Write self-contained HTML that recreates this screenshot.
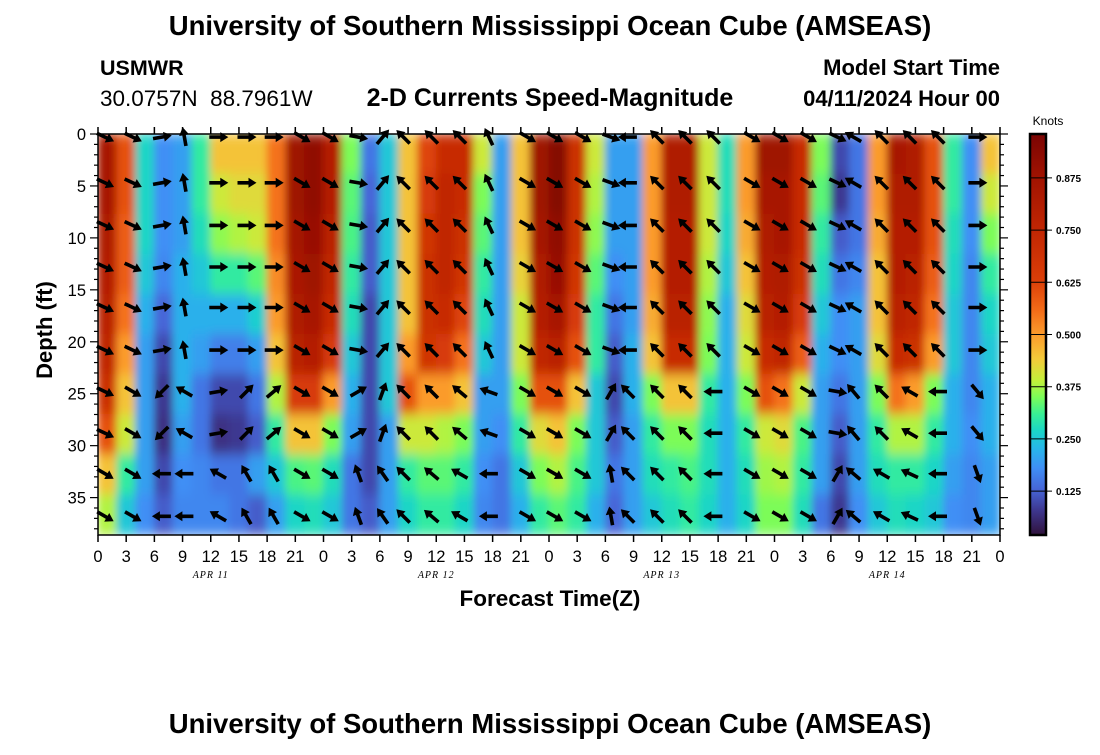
<!DOCTYPE html>
<html><head><meta charset="utf-8"><style>
body{margin:0;background:#fff;}
svg text{font-family:"Liberation Sans",sans-serif;fill:#000;white-space:pre;}
</style></head><body>
<svg id="chart" width="1100" height="750" viewBox="0 0 1100 750" xmlns="http://www.w3.org/2000/svg">
<defs>
<clipPath id="plotclip"><rect x="98" y="134" width="902" height="401"/></clipPath>
<filter id="smooth" x="0" y="0" width="1" height="1"><feGaussianBlur stdDeviation="4 6" edgeMode="duplicate"/></filter>
<linearGradient id="cbgrad" x1="0" y1="1" x2="0" y2="0"></linearGradient>
</defs>
<text x="550" y="35" text-anchor="middle" font-size="27.5" font-weight="bold">University of Southern Mississippi Ocean Cube (AMSEAS)</text>
<text x="100" y="75" font-size="21.5" font-weight="bold">USMWR</text>
<text x="100" y="106" font-size="22.5" xml:space="preserve">30.0757N  88.7961W</text>
<text x="550" y="106" text-anchor="middle" font-size="25" font-weight="bold">2-D Currents Speed-Magnitude</text>
<text x="1000" y="75" text-anchor="end" font-size="22" font-weight="bold">Model Start Time</text>
<text x="1000" y="106" text-anchor="end" font-size="22" font-weight="bold">04/11/2024 Hour 00</text>
<g id="heat-clip" clip-path="url(#plotclip)"><g id="heat" filter="url(#smooth)"></g></g>
<g id="arrows"></g>
<g id="axes"></g>
<text transform="translate(52,330) rotate(-90)" text-anchor="middle" font-size="22" font-weight="bold">Depth (ft)</text>
<text x="550" y="606" text-anchor="middle" font-size="22.5" font-weight="bold">Forecast Time(Z)</text>
<g id="colorbar"></g>
<text x="1048" y="125" text-anchor="middle" font-size="12">Knots</text>
<text x="550" y="733" text-anchor="middle" font-size="27.5" font-weight="bold">University of Southern Mississippi Ocean Cube (AMSEAS)</text>
</svg>
<script>
const NS='http://www.w3.org/2000/svg';
const xTickLabels=['0','3','6','9','12','15','18','21','0','3','6','9','12','15','18','21','0','3','6','9','12','15','18','21','0','3','6','9','12','15','18','21','0'];
const dayLabels=['APR 11','APR 12','APR 13','APR 14'];
const yTickLabels=['0','5','10','15','20','25','30','35'];
const cbTickLabels=['0.125','0.250','0.375','0.500','0.625','0.750','0.875'];
// speed (knots), 48 time cells (2h each), 10 depth bands
const speedBand0=[0.85,0.6,0.27,0.18,0.2,0.3,0.45,0.45,0.45,0.55,0.88,0.92,0.8,0.35,0.15,0.25,0.45,0.62,0.72,0.72,0.4,0.2,0.45,0.88,0.95,0.7,0.4,0.2,0.2,0.5,0.82,0.82,0.4,0.28,0.5,0.88,0.88,0.72,0.35,0.1,0.15,0.5,0.85,0.82,0.6,0.3,0.18,0.45];
const speedBand1=[0.85,0.6,0.27,0.18,0.2,0.3,0.4,0.42,0.42,0.55,0.88,0.92,0.8,0.33,0.13,0.25,0.45,0.65,0.75,0.72,0.35,0.2,0.45,0.88,0.95,0.7,0.38,0.2,0.2,0.5,0.82,0.82,0.4,0.28,0.5,0.85,0.85,0.72,0.33,0.08,0.15,0.5,0.82,0.82,0.6,0.3,0.18,0.4];
const speedBand2=[0.82,0.58,0.27,0.18,0.2,0.28,0.36,0.38,0.4,0.55,0.86,0.9,0.78,0.32,0.12,0.25,0.45,0.68,0.75,0.7,0.33,0.2,0.45,0.86,0.92,0.7,0.36,0.2,0.2,0.5,0.8,0.8,0.4,0.27,0.48,0.82,0.85,0.72,0.3,0.12,0.15,0.48,0.8,0.8,0.6,0.28,0.18,0.35];
const speedBand3=[0.8,0.58,0.25,0.17,0.22,0.25,0.3,0.3,0.33,0.52,0.84,0.88,0.75,0.3,0.12,0.25,0.45,0.7,0.75,0.68,0.3,0.2,0.43,0.82,0.9,0.68,0.33,0.18,0.2,0.5,0.8,0.8,0.38,0.25,0.45,0.8,0.82,0.7,0.28,0.15,0.17,0.45,0.8,0.78,0.58,0.27,0.17,0.3];
const speedBand4=[0.78,0.55,0.22,0.13,0.22,0.22,0.22,0.22,0.26,0.5,0.82,0.85,0.72,0.28,0.1,0.25,0.45,0.7,0.72,0.62,0.28,0.2,0.4,0.8,0.85,0.65,0.3,0.15,0.2,0.48,0.78,0.78,0.36,0.22,0.42,0.78,0.8,0.65,0.25,0.18,0.2,0.45,0.78,0.75,0.55,0.25,0.17,0.27];
const speedBand5=[0.75,0.5,0.2,0.1,0.22,0.2,0.16,0.16,0.2,0.45,0.78,0.8,0.65,0.25,0.1,0.25,0.5,0.68,0.65,0.55,0.25,0.2,0.4,0.75,0.78,0.6,0.3,0.12,0.22,0.45,0.72,0.72,0.35,0.22,0.4,0.72,0.75,0.58,0.22,0.18,0.2,0.42,0.72,0.7,0.5,0.25,0.17,0.25];
const speedBand6=[0.7,0.45,0.2,0.08,0.22,0.15,0.1,0.1,0.15,0.38,0.65,0.65,0.5,0.22,0.1,0.25,0.6,0.5,0.5,0.45,0.2,0.2,0.35,0.6,0.6,0.45,0.25,0.1,0.22,0.35,0.45,0.45,0.3,0.22,0.35,0.6,0.55,0.4,0.2,0.15,0.2,0.35,0.55,0.5,0.35,0.22,0.17,0.22];
const speedBand7=[0.6,0.4,0.2,0.07,0.2,0.15,0.07,0.08,0.12,0.3,0.45,0.45,0.35,0.2,0.1,0.2,0.4,0.4,0.38,0.35,0.2,0.18,0.3,0.42,0.45,0.35,0.25,0.12,0.2,0.3,0.35,0.35,0.28,0.22,0.3,0.4,0.42,0.32,0.2,0.12,0.2,0.3,0.38,0.38,0.3,0.22,0.18,0.22];
const speedBand8=[0.45,0.3,0.2,0.1,0.18,0.17,0.15,0.15,0.2,0.25,0.32,0.33,0.28,0.15,0.1,0.2,0.3,0.33,0.33,0.3,0.18,0.15,0.25,0.35,0.38,0.32,0.25,0.15,0.2,0.28,0.3,0.32,0.28,0.22,0.28,0.37,0.38,0.3,0.2,0.1,0.2,0.28,0.3,0.3,0.27,0.2,0.17,0.2];
const speedBand9=[0.38,0.25,0.18,0.12,0.17,0.17,0.17,0.15,0.12,0.2,0.27,0.28,0.25,0.15,0.12,0.2,0.27,0.3,0.3,0.27,0.17,0.15,0.22,0.3,0.33,0.3,0.22,0.13,0.2,0.25,0.28,0.3,0.27,0.22,0.27,0.35,0.35,0.28,0.15,0.08,0.18,0.25,0.28,0.27,0.25,0.18,0.17,0.2];
// arrows
const arrowHours=[0.75,3.7,6.8,9.2,12.8,15.8,18.7,21.7,24.7,27.7,30.3,32.5,35.5,38.5,41.6,45.7,48.6,51.6,54.6,56.4,59.5,62.5,65.5,69.6,72.6,75.6,78.7,80.4,83.4,86.4,89.4,93.6];
const arrowDepths=[0.3,4.7,8.8,12.8,16.7,20.8,24.8,28.8,32.7,36.8];
const arrowAngleUpper=[25,25,-10,-100,0,0,0,30,30,10,-50,-135,-135,-135,-115,30,30,30,20,180,-135,-135,-135,30,30,30,25,-150,-135,-135,-135,0];
const arrowAngleMid=[25,30,135,-150,-10,-45,-40,30,30,-30,-70,-135,-135,-140,-160,30,30,30,-60,-135,-135,-135,180,30,30,30,10,-130,-135,-150,180,50];
const arrowAngleDeep=[30,30,180,180,-150,-120,-120,30,30,-110,-125,-135,-140,-150,180,30,30,30,-100,-135,-135,-135,180,30,30,30,-60,-140,-150,-155,180,70];

const speedBands=[speedBand0,speedBand1,speedBand2,speedBand3,speedBand4,speedBand5,speedBand6,speedBand7,speedBand8,speedBand9];
const X0=98,X1=1000,Y0=134,Y1=535,TMAX=96,DMAX=38.6;
function xs(h){return X0+(X1-X0)*h/TMAX;}
function ys(d){return Y0+(Y1-Y0)*d/DMAX;}
const VMIN=0.02,VMAX=0.98;
const CBY0=134,CBY1=535;
function cs(v){return CBY1-(CBY1-CBY0)*(v-VMIN)/(VMAX-VMIN);}
const stops=[[0.02,'#30123b'],[0.08,'#3e3891'],[0.13,'#4666d8'],[0.18,'#3f8ff5'],[0.23,'#26b8e8'],[0.27,'#1bd6c6'],[0.31,'#38f094'],[0.35,'#7cfc58'],[0.39,'#c2f03a'],[0.44,'#f3cb3a'],[0.5,'#fb9b2c'],[0.56,'#f26a17'],[0.63,'#db3e08'],[0.75,'#c02603'],[0.875,'#a11301'],[0.98,'#7a0403']];
function hex(c){return [parseInt(c.slice(1,3),16),parseInt(c.slice(3,5),16),parseInt(c.slice(5,7),16)];}
function color(v){
  if(v<=stops[0][0])return stops[0][1];
  for(let i=1;i<stops.length;i++){if(v<=stops[i][0]){const a=stops[i-1],b=stops[i];const t=(v-a[0])/(b[0]-a[0]);const ca=hex(a[1]),cb=hex(b[1]);return 'rgb('+ca.map((x,k)=>Math.round(x+(cb[k]-x)*t)).join(',')+')';}}
  return stops[stops.length-1][1];
}
function mk(tag,attrs,parent){const e=document.createElementNS(NS,tag);for(const k in attrs)e.setAttribute(k,attrs[k]);parent.appendChild(e);return e;}

const heat=document.getElementById('heat');
const nb=speedBands.length;
speedBands.forEach((band,r)=>{
  band.forEach((v,c)=>{
    const h0=c*TMAX/band.length,h1=(c+1)*TMAX/band.length;
    const d0=r*DMAX/nb,d1=(r+1)*DMAX/nb;
    const el=mk('rect',{x:xs(h0)-0.5,y:ys(d0)-0.5,width:xs(h1)-xs(h0)+1,height:ys(d1)-ys(d0)+1,fill:color(v)},heat);
    
    
  });
});

const ag=document.getElementById('arrows');
arrowHours.forEach((h,c)=>{
  arrowDepths.forEach((d,r)=>{
    const ang=r<=5?arrowAngleUpper[c]:(r<=7?arrowAngleMid[c]:arrowAngleDeep[c]);
    const el=mk('path',{d:'M-9,-1.8 L2,-1.8 L2,-5 L10,0 L2,5 L2,1.8 L-9,1.8 Z',fill:'#000',transform:'translate('+xs(h).toFixed(1)+','+ys(d).toFixed(1)+') rotate('+ang+')'},ag);
    
    
  });
});

const ax=document.getElementById('axes');
mk('rect',{x:X0,y:Y0,width:X1-X0,height:Y1-Y0,fill:'none',stroke:'#000','stroke-width':1.5},ax);
xTickLabels.forEach((lab,i)=>{
  const x=xs(i*3);
  mk('line',{x1:x,y1:Y1,x2:x,y2:Y1+7,stroke:'#000','stroke-width':1.5},ax);
  mk('line',{x1:x,y1:Y0,x2:x,y2:Y0-7,stroke:'#000','stroke-width':1.5},ax);
  const t=mk('text',{x:x,y:Y1+27,'text-anchor':'middle','font-size':16.5},ax);t.textContent=lab;
  
  
});
dayLabels.forEach((lab,i)=>{
  const t=mk('text',{x:xs(12+24*i),y:Y1+43,'text-anchor':'middle','font-size':10,'font-style':'italic','letter-spacing':'1'},ax);t.textContent=lab;
  t.style.fontFamily='"Liberation Serif",serif';
  
  
});
for(let d=0;d<=38;d++){
  const y=ys(d),maj=d%5===0;
  mk('line',{x1:X0,y1:y,x2:X0-(maj?8:4),y2:y,stroke:'#000','stroke-width':1.2},ax);
  mk('line',{x1:X1,y1:y,x2:X1+(maj?8:4),y2:y,stroke:'#000','stroke-width':1.2},ax);
}
yTickLabels.forEach((lab,i)=>{
  const t=mk('text',{x:X0-12,y:ys(i*5)+6,'text-anchor':'end','font-size':16.5},ax);t.textContent=lab;
  
  
});

const cb=document.getElementById('colorbar');
const grad=document.getElementById('cbgrad');
stops.forEach(s=>{mk('stop',{offset:((s[0]-VMIN)/(VMAX-VMIN)).toFixed(3),'stop-color':s[1]},grad);});
mk('rect',{x:1030,y:CBY0,width:16,height:CBY1-CBY0,fill:'url(#cbgrad)',stroke:'#000','stroke-width':2.5},cb);
cbTickLabels.forEach(lab=>{
  const y=cs(parseFloat(lab));
  mk('line',{x1:1030,y1:y,x2:1052,y2:y,stroke:'#000','stroke-width':1},cb);
  const t=mk('text',{x:1056,y:y+4,'font-size':10,'font-weight':'bold'},cb);t.textContent=lab;
  
  
});
</script>
</body></html>
